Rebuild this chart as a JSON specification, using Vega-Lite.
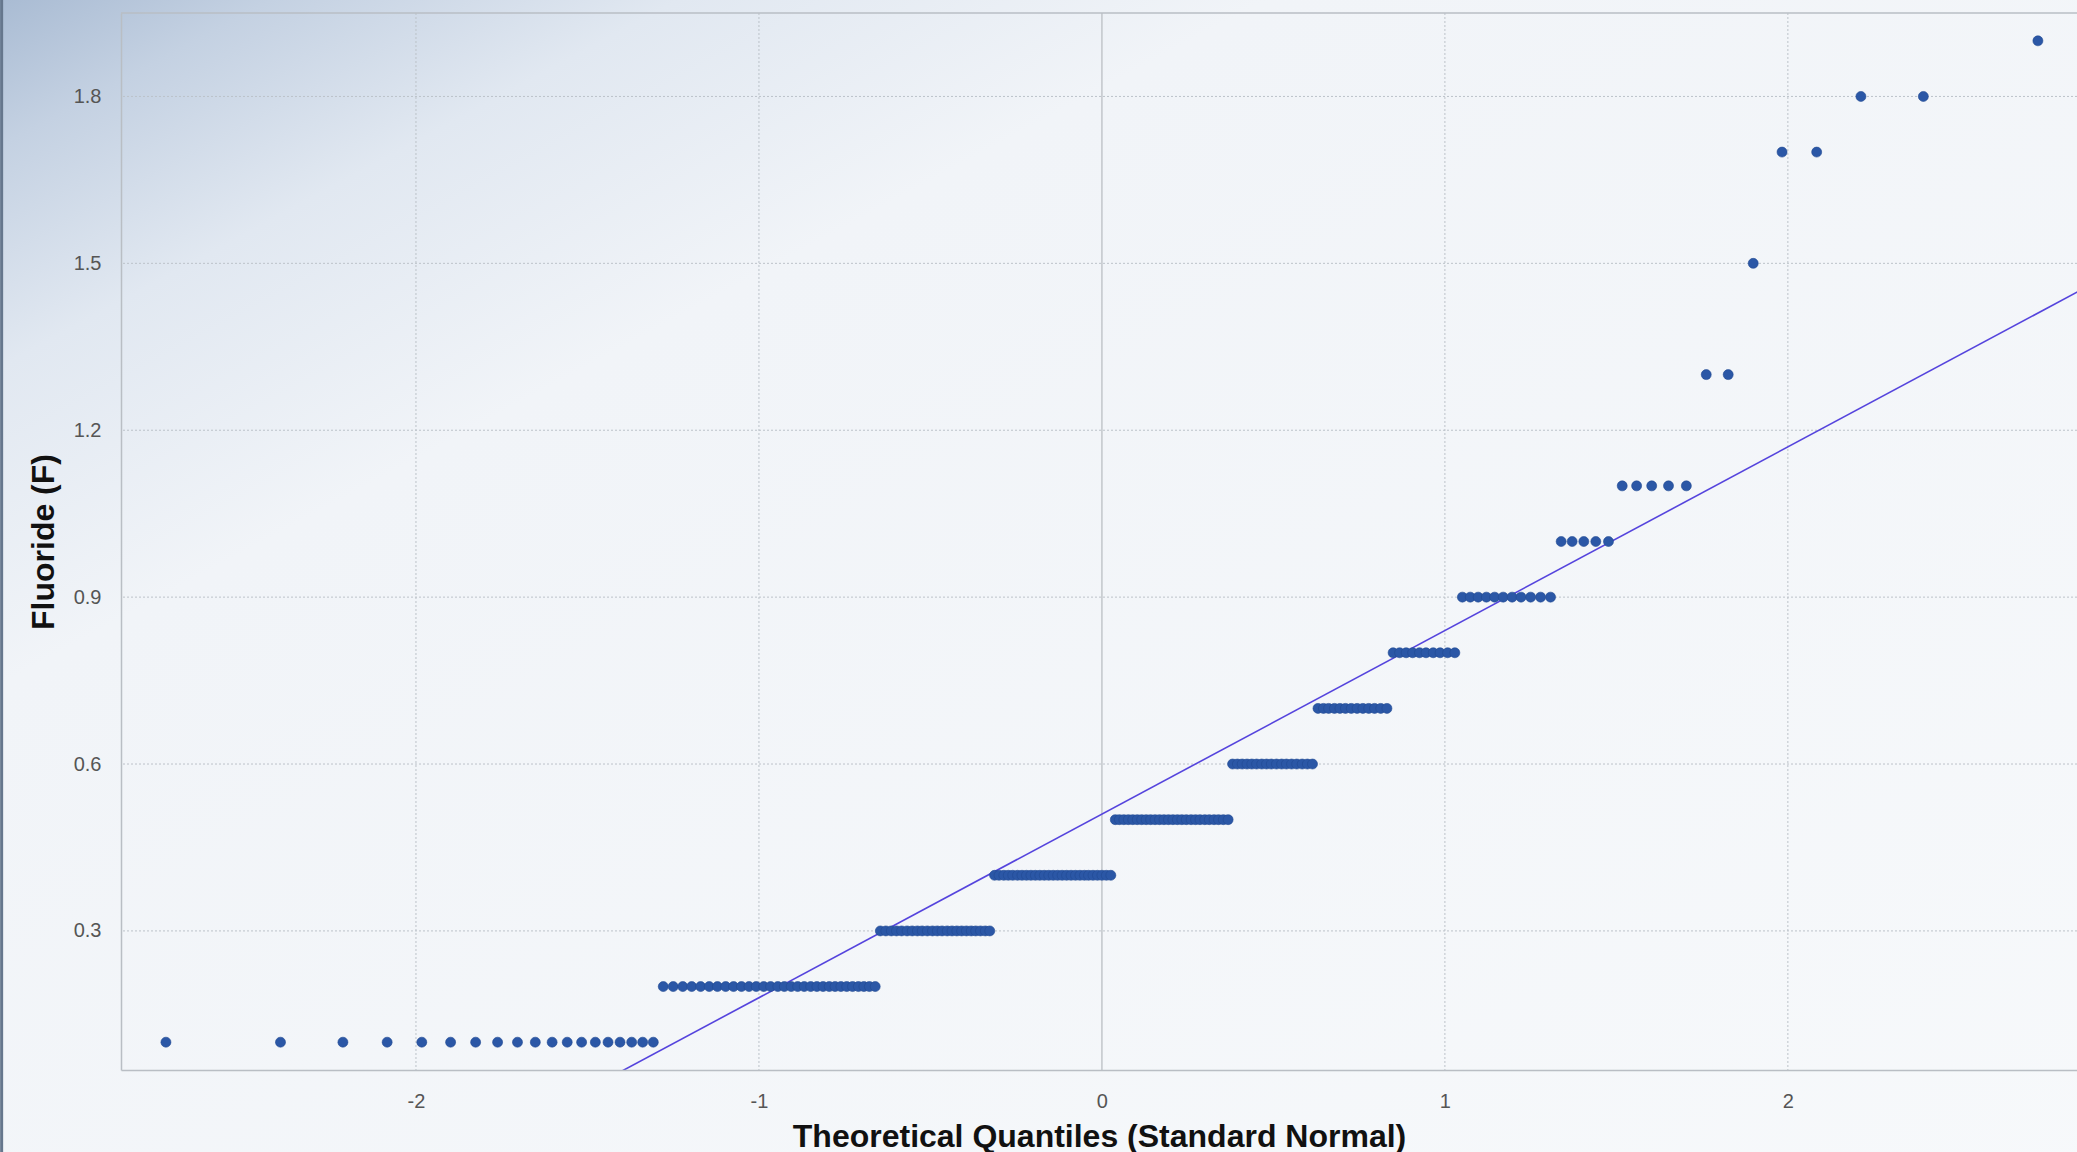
{
  "$schema": "https://vega.github.io/schema/vega-lite/v6.json",
  "autosize": {"type": "none"},
  "width": 1956,
  "height": 1057,
  "padding": {"left": 121, "top": 13, "right": 0, "bottom": 82},
  "background": "#f5f7fa",
  "config": {
    "view": {"stroke": null},
    "axis": {
      "grid": false,
      "ticks": false,
      "domainColor": "#b9bec4",
      "domainWidth": 1.5,
      "labelFont": "Liberation Sans Narrow, Liberation Sans, sans-serif",
      "labelFontSize": 20,
      "labelColor": "#555555",
      "titleFont": "Liberation Sans, Arial, sans-serif",
      "titleFontWeight": "bold",
      "titleColor": "#111111"
    }
  },
  "datasets": {
    "fluoride": [
      {"q":-2.729,"f":0.1},{"q":-2.395,"f":0.1},{"q":-2.213,"f":0.1},{"q":-2.084,"f":0.1},{"q":-1.983,"f":0.1},{"q":-1.899,"f":0.1},{"q":-1.826,"f":0.1},{"q":-1.762,"f":0.1},{"q":-1.704,"f":0.1},{"q":-1.652,"f":0.1},
      {"q":-1.603,"f":0.1},{"q":-1.559,"f":0.1},{"q":-1.517,"f":0.1},{"q":-1.477,"f":0.1},{"q":-1.440,"f":0.1},{"q":-1.405,"f":0.1},{"q":-1.371,"f":0.1},{"q":-1.339,"f":0.1},{"q":-1.308,"f":0.1},
      {"q":-1.279,"f":0.2},{"q":-1.250,"f":0.2},{"q":-1.222,"f":0.2},{"q":-1.196,"f":0.2},{"q":-1.170,"f":0.2},{"q":-1.145,"f":0.2},{"q":-1.121,"f":0.2},{"q":-1.097,"f":0.2},{"q":-1.074,"f":0.2},{"q":-1.051,"f":0.2},
      {"q":-1.029,"f":0.2},{"q":-1.008,"f":0.2},{"q":-0.986,"f":0.2},{"q":-0.966,"f":0.2},{"q":-0.945,"f":0.2},{"q":-0.926,"f":0.2},{"q":-0.906,"f":0.2},{"q":-0.887,"f":0.2},{"q":-0.868,"f":0.2},{"q":-0.849,"f":0.2},
      {"q":-0.831,"f":0.2},{"q":-0.813,"f":0.2},{"q":-0.795,"f":0.2},{"q":-0.778,"f":0.2},{"q":-0.761,"f":0.2},{"q":-0.744,"f":0.2},{"q":-0.727,"f":0.2},{"q":-0.710,"f":0.2},{"q":-0.694,"f":0.2},{"q":-0.678,"f":0.2},{"q":-0.661,"f":0.2},
      {"q":-0.646,"f":0.3},{"q":-0.630,"f":0.3},{"q":-0.614,"f":0.3},{"q":-0.599,"f":0.3},{"q":-0.584,"f":0.3},{"q":-0.568,"f":0.3},{"q":-0.553,"f":0.3},{"q":-0.538,"f":0.3},{"q":-0.524,"f":0.3},{"q":-0.509,"f":0.3},
      {"q":-0.494,"f":0.3},{"q":-0.480,"f":0.3},{"q":-0.466,"f":0.3},{"q":-0.451,"f":0.3},{"q":-0.437,"f":0.3},{"q":-0.423,"f":0.3},{"q":-0.409,"f":0.3},{"q":-0.395,"f":0.3},{"q":-0.381,"f":0.3},{"q":-0.368,"f":0.3},
      {"q":-0.354,"f":0.3},{"q":-0.340,"f":0.3},{"q":-0.327,"f":0.3},
      {"q":-0.313,"f":0.4},{"q":-0.300,"f":0.4},{"q":-0.286,"f":0.4},{"q":-0.273,"f":0.4},{"q":-0.260,"f":0.4},{"q":-0.246,"f":0.4},{"q":-0.233,"f":0.4},{"q":-0.220,"f":0.4},{"q":-0.207,"f":0.4},{"q":-0.194,"f":0.4},
      {"q":-0.181,"f":0.4},{"q":-0.168,"f":0.4},{"q":-0.155,"f":0.4},{"q":-0.142,"f":0.4},{"q":-0.129,"f":0.4},{"q":-0.116,"f":0.4},{"q":-0.103,"f":0.4},{"q":-0.090,"f":0.4},{"q":-0.077,"f":0.4},{"q":-0.064,"f":0.4},
      {"q":-0.051,"f":0.4},{"q":-0.039,"f":0.4},{"q":-0.026,"f":0.4},{"q":-0.013,"f":0.4},{"q":0.000,"f":0.4},{"q":0.013,"f":0.4},{"q":0.026,"f":0.4},
      {"q":0.039,"f":0.5},{"q":0.051,"f":0.5},{"q":0.064,"f":0.5},{"q":0.077,"f":0.5},{"q":0.090,"f":0.5},{"q":0.103,"f":0.5},{"q":0.116,"f":0.5},{"q":0.129,"f":0.5},{"q":0.142,"f":0.5},{"q":0.155,"f":0.5},
      {"q":0.168,"f":0.5},{"q":0.181,"f":0.5},{"q":0.194,"f":0.5},{"q":0.207,"f":0.5},{"q":0.220,"f":0.5},{"q":0.233,"f":0.5},{"q":0.246,"f":0.5},{"q":0.260,"f":0.5},{"q":0.273,"f":0.5},{"q":0.286,"f":0.5},
      {"q":0.300,"f":0.5},{"q":0.313,"f":0.5},{"q":0.327,"f":0.5},{"q":0.340,"f":0.5},{"q":0.354,"f":0.5},{"q":0.368,"f":0.5},
      {"q":0.381,"f":0.6},{"q":0.395,"f":0.6},{"q":0.409,"f":0.6},{"q":0.423,"f":0.6},{"q":0.437,"f":0.6},{"q":0.451,"f":0.6},{"q":0.466,"f":0.6},{"q":0.480,"f":0.6},{"q":0.494,"f":0.6},{"q":0.509,"f":0.6},
      {"q":0.524,"f":0.6},{"q":0.538,"f":0.6},{"q":0.553,"f":0.6},{"q":0.568,"f":0.6},{"q":0.584,"f":0.6},{"q":0.599,"f":0.6},{"q":0.614,"f":0.6},
      {"q":0.630,"f":0.7},{"q":0.646,"f":0.7},{"q":0.661,"f":0.7},{"q":0.678,"f":0.7},{"q":0.694,"f":0.7},{"q":0.710,"f":0.7},{"q":0.727,"f":0.7},{"q":0.744,"f":0.7},{"q":0.761,"f":0.7},{"q":0.778,"f":0.7},
      {"q":0.795,"f":0.7},{"q":0.813,"f":0.7},{"q":0.831,"f":0.7},
      {"q":0.849,"f":0.8},{"q":0.868,"f":0.8},{"q":0.887,"f":0.8},{"q":0.906,"f":0.8},{"q":0.926,"f":0.8},{"q":0.945,"f":0.8},{"q":0.966,"f":0.8},{"q":0.986,"f":0.8},{"q":1.008,"f":0.8},{"q":1.029,"f":0.8},
      {"q":1.051,"f":0.9},{"q":1.074,"f":0.9},{"q":1.097,"f":0.9},{"q":1.121,"f":0.9},{"q":1.145,"f":0.9},{"q":1.170,"f":0.9},{"q":1.196,"f":0.9},{"q":1.222,"f":0.9},{"q":1.250,"f":0.9},{"q":1.279,"f":0.9},{"q":1.308,"f":0.9},
      {"q":1.339,"f":1.0},{"q":1.371,"f":1.0},{"q":1.405,"f":1.0},{"q":1.440,"f":1.0},{"q":1.477,"f":1.0},
      {"q":1.517,"f":1.1},{"q":1.559,"f":1.1},{"q":1.603,"f":1.1},{"q":1.652,"f":1.1},{"q":1.704,"f":1.1},
      {"q":1.762,"f":1.3},{"q":1.826,"f":1.3},
      {"q":1.899,"f":1.5},
      {"q":1.983,"f":1.7},{"q":2.084,"f":1.7},
      {"q":2.213,"f":1.8},{"q":2.395,"f":1.8},
      {"q":2.729,"f":1.9}
    ]
  },
  "layer": [
    {
      "data": {"values": [{}]},
      "mark": {
        "type": "rect",
        "clip": false,
        "color": {
          "gradient": "linear",
          "x1": 0, "y1": 0, "x2": 1, "y2": 1,
          "stops": [
            {"offset": 0, "color": "#a0b4ce"},
            {"offset": 0.08, "color": "#c4d1e2"},
            {"offset": 0.17, "color": "#e1e8f1"},
            {"offset": 0.3, "color": "#f1f4f8"},
            {"offset": 1, "color": "#f7f9fb"}
          ]
        }
      },
      "encoding": {
        "x": {"datum": -3.4, "type": "quantitative", "scale": {"domain": [-2.86, 2.843], "nice": false, "zero": false}},
        "x2": {"datum": 3.2},
        "y": {"datum": 2.0, "type": "quantitative", "scale": {"domain": [0.05, 1.95], "nice": false, "zero": false}},
        "y2": {"datum": -0.2}
      }
    },
    {
      "data": {"values": [{}]},
      "mark": {"type": "rule", "clip": false, "color": "#66778d", "strokeWidth": 3},
      "encoding": {
        "x": {"datum": -3.208, "type": "quantitative", "scale": {"domain": [-2.86, 2.843], "nice": false, "zero": false}},
        "y": {"datum": 2.0, "type": "quantitative", "scale": {"domain": [0.05, 1.95], "nice": false, "zero": false}},
        "y2": {"datum": -0.2}
      }
    },
    {
      "data": {"values": [{"q": -2}, {"q": -1}, {"q": 1}, {"q": 2}]},
      "mark": {"type": "rule", "color": "#bcc2c9", "strokeWidth": 1, "strokeDash": [2, 2]},
      "encoding": {
        "x": {"field": "q", "type": "quantitative", "scale": {"domain": [-2.86, 2.843], "nice": false, "zero": false}}
      }
    },
    {
      "data": {"values": [{"q": 0}]},
      "mark": {"type": "rule", "color": "#c2c6cb", "strokeWidth": 1.5},
      "encoding": {
        "x": {"field": "q", "type": "quantitative", "scale": {"domain": [-2.86, 2.843], "nice": false, "zero": false}}
      }
    },
    {
      "data": {"values": [{"f": 0.3}, {"f": 0.6}, {"f": 0.9}, {"f": 1.2}, {"f": 1.5}, {"f": 1.8}]},
      "mark": {"type": "rule", "color": "#bcc2c9", "strokeWidth": 1, "strokeDash": [2, 2]},
      "encoding": {
        "y": {"field": "f", "type": "quantitative", "scale": {"domain": [0.05, 1.95], "nice": false, "zero": false}}
      }
    },
    {
      "data": {"values": [{"f": 1.95}]},
      "mark": {"type": "rule", "color": "#b9bec4", "strokeWidth": 1.5},
      "encoding": {
        "y": {"field": "f", "type": "quantitative", "scale": {"domain": [0.05, 1.95], "nice": false, "zero": false}}
      }
    },
    {
      "data": {"values": [{"q": -3, "f": -0.48}, {"q": 3, "f": 1.5}]},
      "mark": {"type": "line", "clip": true, "color": "#5544dd", "strokeWidth": 1.6},
      "encoding": {
        "x": {"field": "q", "type": "quantitative", "scale": {"domain": [-2.86, 2.843], "nice": false, "zero": false}},
        "y": {"field": "f", "type": "quantitative", "scale": {"domain": [0.05, 1.95], "nice": false, "zero": false}}
      }
    },
    {
      "data": {"name": "fluoride"},
      "mark": {"type": "circle", "size": 100, "color": "#2b57a6", "opacity": 1, "stroke": "#214a92", "strokeWidth": 0.6},
      "encoding": {
        "x": {
          "field": "q", "type": "quantitative",
          "scale": {"domain": [-2.86, 2.843], "nice": false, "zero": false},
          "axis": {
            "zindex": 2,
            "values": [-2, -1, 0, 1, 2],
            "labelExpr": "'' + datum.value",
            "labelPadding": 21,
            "title": "Theoretical Quantiles (Standard Normal)",
            "titleFontSize": 32,
            "titlePadding": 10
          }
        },
        "y": {
          "field": "f", "type": "quantitative",
          "scale": {"domain": [0.05, 1.95], "nice": false, "zero": false},
          "axis": {
            "zindex": 2,
            "values": [0.3, 0.6, 0.9, 1.2, 1.5, 1.8],
            "format": ".1f",
            "labelPadding": 20,
            "title": "Fluoride (F)",
            "titleFontSize": 32,
            "titlePadding": 13
          }
        }
      }
    }
  ]
}
